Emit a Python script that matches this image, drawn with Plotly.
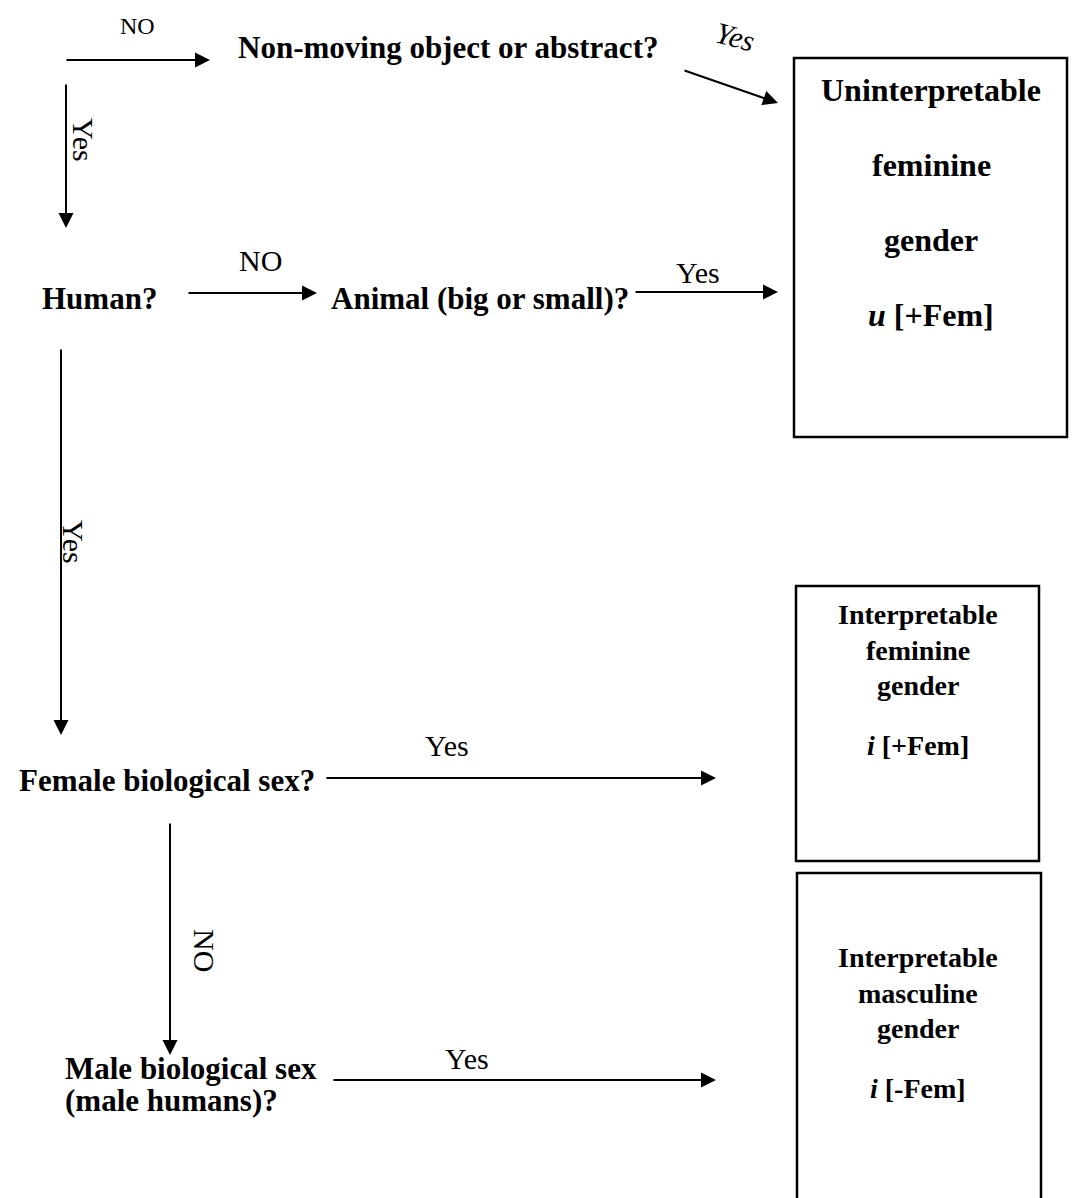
import plotly.graph_objects as go

W, H = 1073, 1198
FONT = "Liberation Serif, Times New Roman, serif"

# Question nodes: text, x, y, anchor
questions = ["<b>Non-moving object or abstract?</b>", "<b>Human?</b>",
             "<b>Animal (big or small)?</b>", "<b>Female biological sex?</b>",
             "<b>Male biological sex</b>", "<b>(male humans)?</b>"]
q_x = [448, 99, 480, 167, 63, 63]
q_y = [47, 298, 298, 780, 1068, 1100]
q_anchor = ["center", "center", "center", "center", "left", "left"]

# Outcome boxes: x0, y0, x1, y1
box_x0 = [794, 796, 797]
box_y0 = [58, 586, 873]
box_x1 = [1067, 1039, 1041]
box_y1 = [437, 861, 1230]

box1_lines = ["<b>Uninterpretable</b>", "<b>feminine</b>", "<b>gender</b>", "<b><i>u</i> [+Fem]</b>"]
box1_y = [90, 165, 240, 315]
box2_lines = ["<b>Interpretable</b>", "<b>feminine</b>", "<b>gender</b>", "<b><i>i</i> [+Fem]</b>"]
box2_y = [614, 650, 685, 745]
box3_lines = ["<b>Interpretable</b>", "<b>masculine</b>", "<b>gender</b>", "<b><i>i</i> [-Fem]</b>"]
box3_y = [957, 993, 1028, 1088]
box_text_x = [931, 918, 918]
box_font = [32, 28, 28]

# Arrows: (x_start, y_start, x_end, y_end)
arr_x0 = [65, 683, 66, 187, 634, 61, 325, 170, 332]
arr_y0 = [60, 70, 83, 293, 292, 348, 778, 822, 1080]
arr_x1 = [210, 778, 66, 317, 778, 61, 716, 170, 716]
arr_y1 = [60, 103, 228, 293, 292, 735, 778, 1055, 1080]

# Edge labels
lab_text = ["NO", "<i>Yes</i>", "Yes", "NO", "Yes", "Yes", "Yes", "NO", "Yes"]
lab_x = [137, 735, 84, 260, 698, 74, 447, 205, 467]
lab_y = [26, 36, 140, 260, 272, 542, 745, 950, 1058]
lab_angle = [0, 15, 90, 0, 0, 90, 0, 90, 0]
lab_size = [24, 30, 30, 30, 30, 30, 30, 30, 30]

fig = go.Figure()
fig.add_trace(go.Scatter(x=[0, W], y=[0, H], mode="markers",
                         marker=dict(opacity=0), hoverinfo="skip", showlegend=False))

for x0, y0, x1, y1 in zip(box_x0, box_y0, box_x1, box_y1):
    fig.add_shape(type="rect", x0=x0, y0=y0, x1=x1, y1=y1,
                  line=dict(color="black", width=2.5), xref="x", yref="y")

for t, x, y, a in zip(questions, q_x, q_y, q_anchor):
    fig.add_annotation(x=x, y=y, text=t, showarrow=False, xanchor=a, align="left",
                       font=dict(family=FONT, size=31, color="black"))

for lines, ys, bx, sz in zip([box1_lines, box2_lines, box3_lines],
                             [box1_y, box2_y, box3_y], box_text_x, box_font):
    for t, y in zip(lines, ys):
        fig.add_annotation(x=bx, y=y, text=t, showarrow=False,
                           font=dict(family=FONT, size=sz, color="black"))

for x0, y0, x1, y1 in zip(arr_x0, arr_y0, arr_x1, arr_y1):
    fig.add_annotation(x=x1, y=y1, ax=x0, ay=y0, xref="x", yref="y",
                       axref="x", ayref="y", text="", showarrow=True,
                       arrowhead=2, arrowsize=1.5, arrowwidth=2, arrowcolor="black",
                       standoff=0)

for t, x, y, ang, sz in zip(lab_text, lab_x, lab_y, lab_angle, lab_size):
    fig.add_annotation(x=x, y=y, text=t, showarrow=False, textangle=ang,
                       font=dict(family=FONT, size=sz, color="black"))

fig.update_layout(
    width=W, height=H, margin=dict(l=0, r=0, t=0, b=0),
    plot_bgcolor="white", paper_bgcolor="white",
    xaxis=dict(range=[0, W], visible=False, fixedrange=True),
    yaxis=dict(range=[H, 0], visible=False, fixedrange=True),
    showlegend=False,
)

fig.write_html("out.html", post_script="document.body.style.margin='0px';",
               config={"displayModeBar": False})
